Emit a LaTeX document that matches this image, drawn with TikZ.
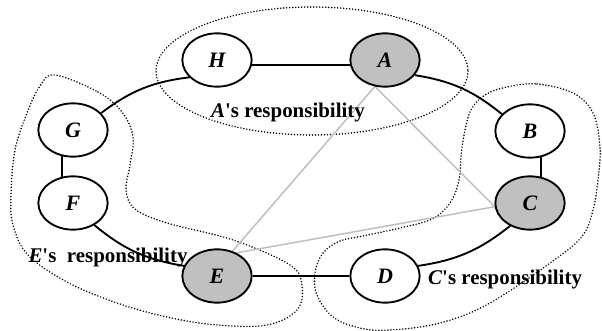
\documentclass[tikz,border=0pt]{standalone}
\usepackage{fontspec}
\newfontfamily\tnr{Liberation Serif}
\usetikzlibrary{shapes.geometric,backgrounds}
\definecolor{nodegray}{RGB}{192,192,192}
\definecolor{linkgray}{RGB}{190,190,190}
\begin{document}
\begin{tikzpicture}[x=0.75pt,y=-0.75pt,
 peer/.style={ellipse,draw,fill=white,line width=1.4pt,minimum width=52pt,minimum height=40pt,inner sep=0pt,font=\tnr\bfseries\itshape\fontsize{16.5}{18}\selectfont},
 hub/.style={peer,fill=nodegray},
 ring/.style={line width=1.4pt},
 link/.style={draw=linkgray,line width=1.1pt},
 zone/.style={line width=1.25pt,dash pattern=on 0pt off 2.25pt,line cap=round},
 lbl/.style={font=\tnr\bfseries\fontsize{15.7}{18}\selectfont,inner sep=0pt}]
\useasboundingbox (0,0) rectangle (602,331);

\node[peer] (H) at (217,60) {H};
\node[hub]  (A) at (385,60) {A};
\node[peer] (B) at (530,131) {B};
\node[hub]  (C) at (530,203) {C};
\node[peer] (D) at (385,276) {D};
\node[hub]  (E) at (217,276) {E};
\node[peer] (F) at (73,203) {F};
\node[peer] (G) at (73,130) {G};

\begin{scope}[on background layer]
\draw[zone] (312,71) ellipse [x radius=156, y radius=64];
\draw[zone] plot[smooth cycle, tension=0.6] coordinates {(55,75) (98,92) (122,112) (133,137) (130,165) (126,190) (135,209) (167,223) (233,240) (290,265) (302,286) (297,310) (267,325) (217,325) (167,317) (117,303) (67,282) (28,255) (13,225) (11,195) (15,150) (27,113) (40,86)};
\draw[zone] plot[smooth cycle, tension=0.6] coordinates {(507,87) (537,84) (573,93) (593,113) (600,147) (598,180) (593,210) (583,235) (557,258) (490,303) (440,323) (390,330) (360,328) (333,317) (317,295) (315,273) (323,253) (340,241) (363,236) (400,228) (432,219) (450,203) (459,180) (462,147) (470,112) (485,95)};

\draw[link] (A.-111) -- (E.58);
\draw[link] (A.-111) -- (C.186);
\draw[link] (E.50) -- (C.186);

\draw[ring] (H.-8) -- (A.188);
\draw[ring] (A.-27) to[bend left=15] (B.149);
\draw[ring] (B.-67) -- (C.67);
\draw[ring] (C.-131) to[bend left=15] (D.17);
\draw[ring] (D.west) -- (E.east);
\draw[ring] (E.163) to[bend left=15] (F.-46);
\draw[ring] (F.113) -- (G.-113);
\draw[ring] (G.31) to[bend left=15] (H.-148);
\end{scope}

\node[lbl] (la) at (288,112) {\textit{A}'s responsibility};
\node[lbl] (le) at (108,257) {\textit{E}'s\ \ responsibility};
\node[lbl] (lc) at (505,279) {\textit{C}'s responsibility};
\end{tikzpicture}
\end{document}
